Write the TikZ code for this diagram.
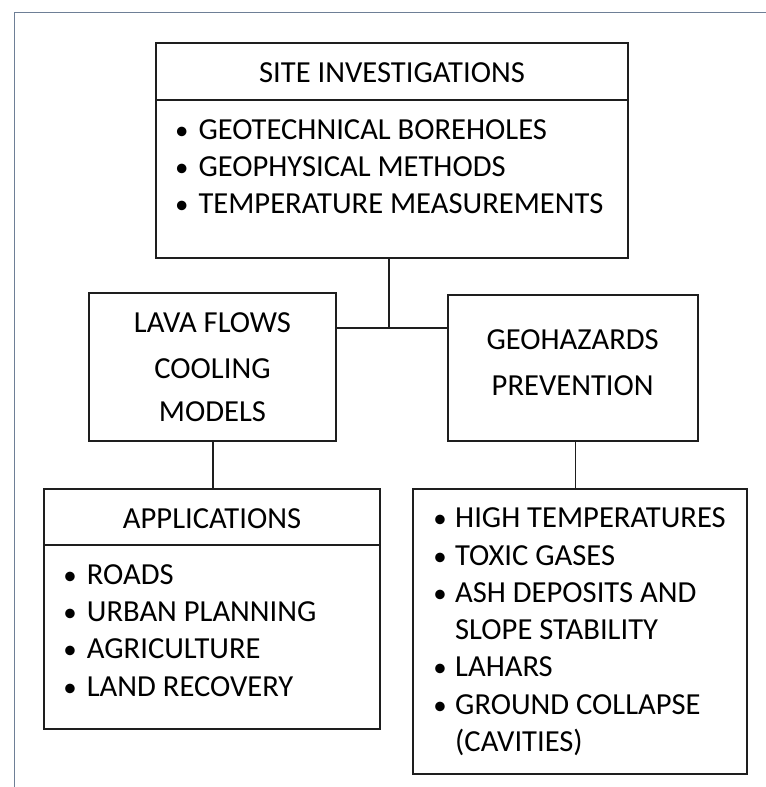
\documentclass[tikz,border=0pt]{standalone}
\usepackage{fontspec}
\setmainfont{Carlito}
\definecolor{framec}{RGB}{110,127,150}
\definecolor{linec}{RGB}{30,30,30}
\begin{document}
\begin{tikzpicture}[x=1bp,y=-1bp,
  box/.style={draw=linec, line width=1.8bp, inner sep=0pt, rectangle},
  txt/.style={inner sep=0pt, font=\fontsize{30.7}{36}\selectfont, text=black},
  ttl/.style={txt, anchor=base},
  item/.style={txt, anchor=base west},
  bul/.style={txt, anchor=base, font=\fontsize{27}{36}\selectfont},
  conn/.style={draw=linec, line width=1.8bp},
  framel/.style={draw=framec, line width=1.4bp}]
\useasboundingbox (0,0) rectangle (766,787);
% outer frame lines
\coordinate (fa) at (14.5,787);
\coordinate (fb) at (14.5,12.3);
\coordinate (fc) at (766,12.3);
\draw[framel] (fa) -- (fb) -- (fc);

% boxes
\node[box, minimum width=472bp, minimum height=215.3bp] (si) at (392,150.35) {};
\node[box, minimum width=246.4bp, minimum height=147.4bp] (lava) at (212.5,367) {};
\node[box, minimum width=250bp, minimum height=145.7bp] (geo) at (572.7,367.85) {};
\node[box, minimum width=336bp, minimum height=240bp] (apps) at (212,609) {};
\node[box, minimum width=334bp, minimum height=285bp] (haz) at (579.7,631.5) {};

% dividers
\coordinate (sid) at (0,100);
\draw[conn] (si.west |- sid) -- (si.east |- sid);
\coordinate (apd) at (0,545.3);
\draw[conn] (apps.west |- apd) -- (apps.east |- apd);

% connectors
\coordinate (j) at (389,327.7);
\draw[conn] (si.south -| j) -- (j);
\draw[conn] (lava.east |- j) -- (geo.west |- j);
\coordinate (lx) at (213,0);
\draw[conn] (lava.south -| lx) -- (apps.north -| lx);
\coordinate (gx) at (575.5,0);
\draw[conn] (geo.south -| gx) -- (haz.north -| gx);

% top box text
\node[ttl] (t1) at (392,82.7) {SITE INVESTIGATIONS};
\node[bul] (b11) at (181.7,139.3) {•};
\node[item] (i11) at (198.3,139.3) {GEOTECHNICAL BOREHOLES};
\node[bul] (b12) at (181.7,176.3) {•};
\node[item] (i12) at (198.3,176.3) {GEOPHYSICAL METHODS};
\node[bul] (b13) at (181.7,213.3) {•};
\node[item] (i13) at (198.3,213.3) {TEMPERATURE MEASUREMENTS};

% lava box text
\node[ttl] (l1) at (212.5,332.7) {LAVA FLOWS};
\node[ttl] (l2) at (212.5,378.7) {COOLING};
\node[ttl] (l3) at (212.5,421.7) {MODELS};

% geohazards text
\node[ttl] (g1) at (572.7,349) {GEOHAZARDS};
\node[ttl] (g2) at (572.7,395) {PREVENTION};

% applications
\node[ttl] (a0) at (212,528.3) {APPLICATIONS};
\node[bul] (ab1) at (70,584.3) {•};
\node[item] (a1) at (86.7,584.3) {ROADS};
\node[bul] (ab2) at (70,621.6) {•};
\node[item] (a2) at (86.7,621.6) {URBAN PLANNING};
\node[bul] (ab3) at (70,658.9) {•};
\node[item] (a3) at (86.7,658.9) {AGRICULTURE};
\node[bul] (ab4) at (70,696.2) {•};
\node[item] (a4) at (86.7,696.2) {LAND RECOVERY};

% hazards list
\node[bul] (hb1) at (440,527.7) {•};
\node[item] (h1) at (455,527.7) {HIGH TEMPERATURES};
\node[bul] (hb2) at (440,565) {•};
\node[item] (h2) at (455,565) {TOXIC GASES};
\node[bul] (hb3) at (440,602.3) {•};
\node[item] (h3) at (455,602.3) {ASH DEPOSITS AND};
\node[item] (h3b) at (455,639.6) {SLOPE STABILITY};
\node[bul] (hb4) at (440,676.9) {•};
\node[item] (h4) at (455,676.9) {LAHARS};
\node[bul] (hb5) at (440,714.2) {•};
\node[item] (h5) at (455,714.2) {GROUND COLLAPSE};
\node[item] (h5b) at (455,751.5) {(CAVITIES)};
\end{tikzpicture}
\end{document}
